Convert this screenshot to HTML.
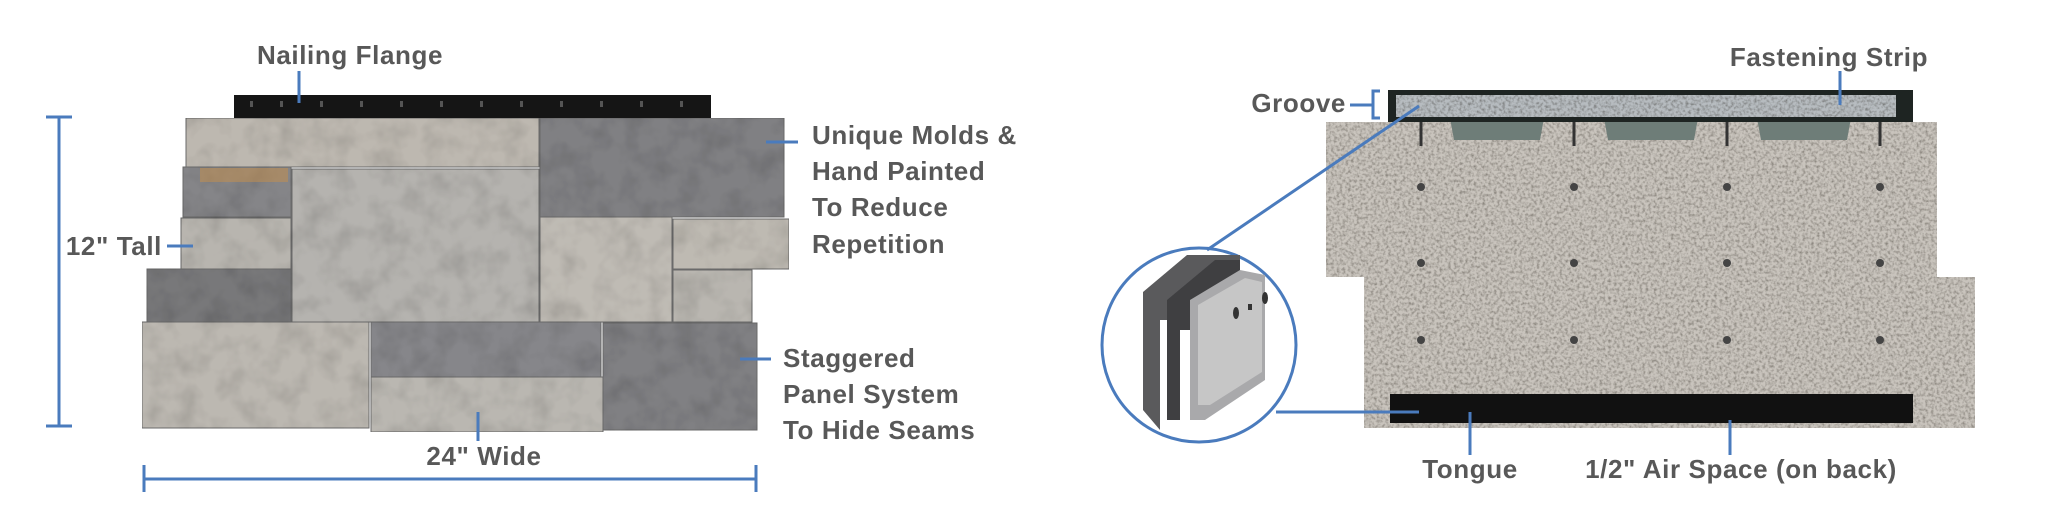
<!DOCTYPE html>
<html><head><meta charset="utf-8"><style>
html,body{margin:0;padding:0;background:#fff;width:2048px;height:520px;overflow:hidden}
svg{display:block}
text{font-family:"Liberation Sans",sans-serif;font-weight:700;fill:#585858;font-size:26px;letter-spacing:0.6px}
</style></head><body>
<svg width="2048" height="520" viewBox="0 0 2048 520" xmlns="http://www.w3.org/2000/svg">
<defs>
<filter id="n" x="0" y="0" width="100%" height="100%">
<feTurbulence type="fractalNoise" baseFrequency="0.35" numOctaves="2" seed="3"/>
<feColorMatrix type="matrix" values="0 0 0 0 0.45  0 0 0 0 0.44  0 0 0 0 0.42  0 0 0 -2.2 1.35"/>
<feComposite in2="SourceGraphic" operator="in"/>
<feBlend in2="SourceGraphic" mode="multiply"/>
</filter>
<filter id="s" x="0" y="0" width="100%" height="100%">
<feTurbulence type="fractalNoise" baseFrequency="0.04" numOctaves="3" seed="7"/>
<feColorMatrix type="matrix" values="0 0 0 0 0.45  0 0 0 0 0.45  0 0 0 0 0.45  0 0 0 -0.9 0.55"/>
<feComposite in2="SourceGraphic" operator="in"/>
<feBlend in2="SourceGraphic" mode="multiply"/>
</filter>
</defs>

<!-- LEFT PANEL -->
<rect x="234" y="95" width="477" height="23" fill="#151515"/>
<g fill="#555">
<rect x="250" y="101" width="3" height="6"/><rect x="280" y="101" width="3" height="6"/><rect x="320" y="101" width="3" height="6"/><rect x="360" y="101" width="3" height="6"/><rect x="400" y="101" width="3" height="6"/><rect x="440" y="101" width="3" height="6"/><rect x="480" y="101" width="3" height="6"/><rect x="520" y="101" width="3" height="6"/><rect x="560" y="101" width="3" height="6"/><rect x="600" y="101" width="3" height="6"/><rect x="640" y="101" width="3" height="6"/><rect x="680" y="101" width="3" height="6"/>
</g>
<g filter="url(#s)" stroke="#6a6a6a" stroke-width="1">
<rect x="186" y="118" width="353" height="49" fill="#bdb8b0"/>
<rect x="540" y="118" width="244" height="99" fill="#808083"/>
<rect x="183" y="167" width="108" height="50" fill="#858588"/>
<rect x="292" y="169" width="247" height="153" fill="#b5b3af"/>
<rect x="181" y="218" width="110" height="51" fill="#b8b5af"/>
<rect x="147" y="269" width="144" height="53" fill="#78787a"/>
<rect x="540" y="217" width="132" height="105" fill="#bfbbb4"/>
<rect x="673" y="219" width="116" height="50" fill="#bebab2"/>
<rect x="673" y="270" width="79" height="52" fill="#b9b6b0"/>
<rect x="142" y="322" width="227" height="106" fill="#bcb8b1"/>
<rect x="371" y="322" width="230" height="55" fill="#86868a"/>
<rect x="371" y="377" width="232" height="55" fill="#bab7b1"/>
<rect x="603" y="323" width="154" height="107" fill="#808083"/>
</g>
<rect x="200" y="168" width="88" height="14" fill="#c8904a" opacity="0.5"/>

<g stroke="#4a7bbd" stroke-width="3" fill="none">
<line x1="59" y1="117" x2="59" y2="426"/><line x1="46" y1="117" x2="72" y2="117"/><line x1="46" y1="426" x2="72" y2="426"/>
<line x1="144" y1="479" x2="756" y2="479"/><line x1="144" y1="465" x2="144" y2="492"/><line x1="756" y1="465" x2="756" y2="492"/>
<line x1="299" y1="71" x2="299" y2="103"/>
<line x1="766" y1="142" x2="798" y2="142"/>
<line x1="167" y1="246" x2="193" y2="246"/>
<line x1="740" y1="359" x2="771" y2="359"/>
<line x1="478" y1="412" x2="478" y2="441"/>
</g>
<text x="350" y="64" text-anchor="middle">Nailing Flange</text>
<text x="812" y="144">Unique Molds &amp;</text>
<text x="812" y="180">Hand Painted</text>
<text x="812" y="216">To Reduce</text>
<text x="812" y="253">Repetition</text>
<text x="162" y="255" text-anchor="end">12" Tall</text>
<text x="783" y="367">Staggered</text>
<text x="783" y="403">Panel System</text>
<text x="783" y="439">To Hide Seams</text>
<text x="484" y="465" text-anchor="middle">24" Wide</text>

<!-- RIGHT PANEL -->
<path d="M1326 122 H1937 V277 H1975 V428 H1364 V277 H1326 Z" fill="#c9c4bd" filter="url(#n)"/>
<g fill="#6e7d78">
<polygon points="1450,118 1544,118 1540,140 1454,140"/>
<polygon points="1604,118 1698,118 1694,140 1608,140"/>
<polygon points="1757,118 1851,118 1847,140 1761,140"/>
</g>
<g stroke="#333" stroke-width="3">
<line x1="1421" y1="122" x2="1421" y2="146"/><line x1="1574" y1="122" x2="1574" y2="146"/><line x1="1727" y1="122" x2="1727" y2="146"/><line x1="1880" y1="122" x2="1880" y2="146"/>
</g>
<g fill="#444">
<circle cx="1421" cy="187" r="4"/><circle cx="1574" cy="187" r="4"/><circle cx="1727" cy="187" r="4"/><circle cx="1880" cy="187" r="4"/>
<circle cx="1421" cy="263" r="4"/><circle cx="1574" cy="263" r="4"/><circle cx="1727" cy="263" r="4"/><circle cx="1880" cy="263" r="4"/>
<circle cx="1421" cy="340" r="4"/><circle cx="1574" cy="340" r="4"/><circle cx="1727" cy="340" r="4"/><circle cx="1880" cy="340" r="4"/>
</g>
<rect x="1388" y="90" width="525" height="32" fill="#1e2422"/>
<rect x="1396" y="95" width="500" height="22" fill="#b7bcc0" filter="url(#n)"/>
<rect x="1390" y="394" width="523" height="29" fill="#111"/>

<!-- circle inset -->
<circle cx="1199" cy="345" r="97" fill="#fff" stroke="#4a7bbd" stroke-width="3"/>
<g>
<polygon points="1143,292 1187,255 1240,255 1240,270 1170,320 1160,320 1160,430 1143,410" fill="#5a5a5c"/>
<polygon points="1167,300 1215,260 1240,260 1240,330 1180,330 1180,420 1167,420" fill="#3f3f41"/>
<polygon points="1190,300 1240,270 1265,275 1265,380 1205,420 1190,420" fill="#a9a9ab"/>
<polygon points="1198,305 1245,278 1262,282 1262,372 1210,405 1198,405" fill="#c6c6c6"/>
<ellipse cx="1236" cy="313" rx="3" ry="6" fill="#333"/><rect x="1248" y="304" width="4" height="6" fill="#333"/><ellipse cx="1265" cy="298" rx="3" ry="6" fill="#333"/>
</g>

<g stroke="#4a7bbd" stroke-width="3" fill="none">
<line x1="1207" y1="250" x2="1419" y2="106"/>
<line x1="1276" y1="412" x2="1419" y2="412"/>
<line x1="1840" y1="71" x2="1840" y2="105"/>
<line x1="1350" y1="105" x2="1372" y2="105"/>
<polyline points="1380,91 1373,91 1373,118 1380,118"/>
<line x1="1470" y1="412" x2="1470" y2="455"/>
<line x1="1730" y1="420" x2="1730" y2="455"/>
</g>
<text x="1829" y="66" text-anchor="middle">Fastening Strip</text>
<text x="1346" y="112" text-anchor="end">Groove</text>
<text x="1470" y="478" text-anchor="middle">Tongue</text>
<text x="1741" y="478" text-anchor="middle">1/2" Air Space (on back)</text>
</svg>
</body></html>
